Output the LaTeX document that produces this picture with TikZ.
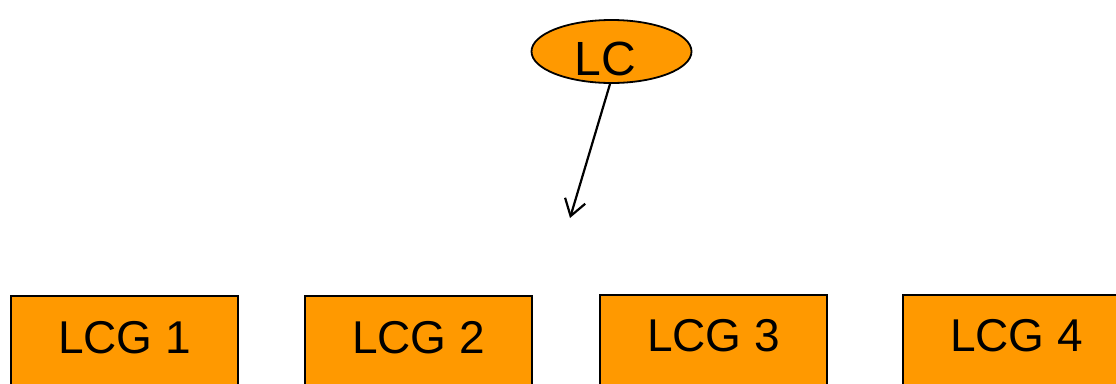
\documentclass[tikz,border=0pt]{standalone}
\usepackage{fontspec}
\setmainfont{Liberation Sans}
\usetikzlibrary{shapes.geometric,arrows.meta}
\definecolor{boxorange}{HTML}{FF9900}
\begin{document}
\begin{tikzpicture}[x=1pt,y=-1pt,
  lcnode/.style={ellipse,draw=black,line width=1.8pt,fill=boxorange,
    minimum width=160pt,minimum height=63pt,inner sep=0pt},
  grpbox/.style={rectangle,draw=black,line width=2pt,fill=boxorange,
    minimum width=227pt,inner xsep=0pt,inner ysep=0pt,
    text height=57pt,text depth=60pt,anchor=base,font=\fontsize{46}{55}\selectfont},
  link/.style={line width=2.2pt,-{Straight Barb[length=16pt,width=21pt]}}]
  \useasboundingbox (0,0) rectangle (1116,383);
  \clip (0,0) rectangle (1116,383);
  % top node
  \node[lcnode] (lc) at (611.5,51.5) {};
  \node[anchor=base,inner sep=0pt,font=\fontsize{48}{58}\selectfont] (lctext) at (605,75) {LC};
  % free end of the connector
  \coordinate (tip) at (570,218);
  \draw[link] (610,84) coordinate (lcfoot) -- (tip);
  % group boxes
  \node[grpbox] (g1) at (124.5,353) {LCG 1};
  \node[grpbox] (g2) at (418.5,353) {LCG 2};
  \node[grpbox,text height=56pt] (g3) at (713.5,351) {LCG 3};
  \node[grpbox,text height=56pt] (g4) at (1016.5,351) {LCG 4};
\end{tikzpicture}
\end{document}
